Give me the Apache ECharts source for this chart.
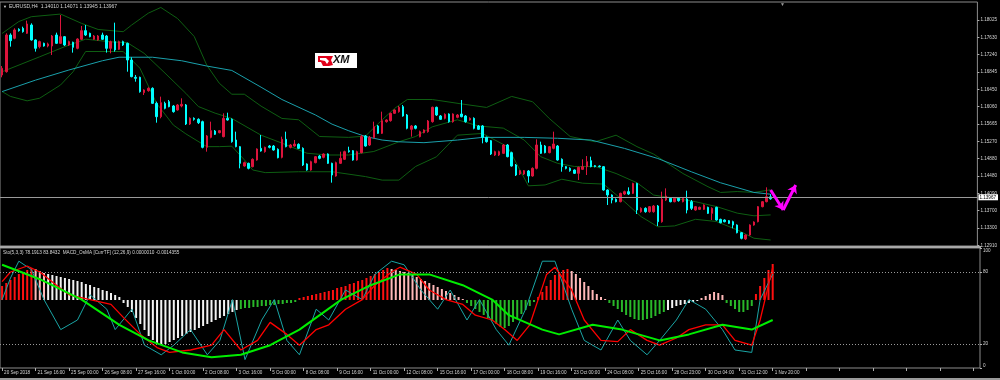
<!DOCTYPE html>
<html><head><meta charset="utf-8">
<script src="https://cdn.jsdelivr.net/npm/echarts@6/dist/echarts.min.js"></script>
<style>html,body{margin:0;padding:0;background:#000;}#c{width:1000px;height:380px;}</style>
</head><body><div id="c"></div>
<script>
// ---- tick labels ----
const timeLabels = ["20 Sep 2018","21 Sep 16:00","25 Sep 00:00","26 Sep 08:00","27 Sep 16:00","1 Oct 00:00","2 Oct 08:00","3 Oct 16:00","5 Oct 00:00","8 Oct 08:00","9 Oct 16:00","11 Oct 00:00","12 Oct 08:00","15 Oct 16:00","17 Oct 00:00","18 Oct 08:00","19 Oct 16:00","23 Oct 00:00","24 Oct 08:00","25 Oct 16:00","28 Oct 23:00","30 Oct 04:00","31 Oct 12:00","1 Nov 20:00"];
const priceTicks = [1.18025,1.17630,1.17240,1.16845,1.16450,1.16060,1.15665,1.15270,1.14880,1.14480,1.14090,1.13700,1.13300,1.12910];
const stochTicks = [0,20,80,100];
const lastPrice = 1.13967;

// ---- candles [open, close, low, high] ----
const candles = [
[1.16777,1.16928,1.16724,1.16980],[1.16852,1.17685,1.16830,1.17723],[1.17685,1.17556,1.17420,1.17723],[1.17610,1.17799,1.17587,1.17837],
[1.17814,1.17784,1.17761,1.17837],[1.17837,1.17761,1.17738,1.17874],[1.17723,1.17935,1.17708,1.18011],[1.17912,1.17572,1.17556,1.17950],
[1.17572,1.17382,1.17307,1.17587],[1.17420,1.17534,1.17382,1.17556],[1.17496,1.17435,1.17420,1.17511],[1.17435,1.17481,1.17405,1.17511],
[1.17435,1.17662,1.17231,1.17685],[1.17685,1.17496,1.17481,1.17738],[1.17496,1.17647,1.17481,1.18139],[1.17647,1.17458,1.17435,1.17662],
[1.17458,1.17534,1.17435,1.17556],[1.17519,1.17405,1.17284,1.17534],[1.17382,1.17594,1.17360,1.17610],[1.17587,1.17784,1.17572,1.17890],
[1.17784,1.17685,1.17662,1.17912],[1.17723,1.17647,1.17632,1.17738],[1.17587,1.17662,1.17572,1.17685],[1.17572,1.17662,1.17556,1.17685],
[1.17685,1.17587,1.17572,1.17738],[1.17662,1.17382,1.17284,1.17685],[1.17382,1.17534,1.17269,1.17556],[1.17534,1.17345,1.17307,1.17965],
[1.17360,1.17534,1.17345,1.17556],[1.17534,1.17458,1.17435,1.17556],[1.17496,1.17117,1.16852,1.17511],[1.17117,1.16739,1.16724,1.17178],
[1.16724,1.16701,1.16625,1.16777],[1.16724,1.16398,1.16376,1.16739],[1.16376,1.16436,1.16323,1.16451],[1.16421,1.16474,1.16398,1.16497],
[1.16474,1.16133,1.16118,1.16497],[1.16133,1.15830,1.15694,1.16171],[1.15830,1.16148,1.15793,1.16285],[1.16133,1.16020,1.15997,1.16171],
[1.16171,1.16058,1.16043,1.16209],[1.16073,1.15944,1.15921,1.16096],[1.15982,1.16096,1.15967,1.16118],[1.16073,1.16111,1.16043,1.16247],
[1.16096,1.15664,1.15641,1.16118],[1.15664,1.15793,1.15641,1.15815],[1.15793,1.15770,1.15740,1.15815],[1.15770,1.15694,1.15664,1.15793],
[1.15717,1.15134,1.15111,1.15740],[1.15134,1.15392,1.15036,1.15414],[1.15361,1.15513,1.15339,1.15717],[1.15505,1.15429,1.15414,1.15528],
[1.15467,1.15513,1.15452,1.15528],[1.15377,1.15793,1.15361,1.15906],[1.15793,1.15755,1.15740,1.15921],[1.15770,1.15263,1.15240,1.15793],
[1.15301,1.15149,1.15134,1.15490],[1.15149,1.14771,1.14657,1.15164],[1.14710,1.14786,1.14695,1.14809],[1.14771,1.14657,1.14634,1.14786],
[1.14695,1.14862,1.14680,1.14884],[1.14846,1.15096,1.14831,1.15111],[1.15111,1.15051,1.15036,1.15414],[1.15036,1.15134,1.15013,1.15149],
[1.15164,1.15134,1.15111,1.15187],[1.15164,1.15073,1.15058,1.15187],[1.15089,1.14899,1.14884,1.15111],[1.14907,1.15316,1.14884,1.15377],
[1.15316,1.15149,1.15134,1.15490],[1.15134,1.15187,1.15111,1.15210],[1.15164,1.15210,1.15149,1.15301],[1.15202,1.15111,1.15096,1.15225],
[1.15111,1.14733,1.14710,1.15134],[1.14756,1.14619,1.14604,1.14771],[1.14619,1.14809,1.14604,1.14831],[1.14786,1.14922,1.14771,1.14937],
[1.14937,1.14884,1.14862,1.14960],[1.14907,1.14983,1.14884,1.14998],[1.14983,1.14771,1.14756,1.14998],[1.14771,1.14506,1.14332,1.14786],
[1.14483,1.14786,1.14468,1.14809],[1.14771,1.14884,1.14756,1.15036],[1.14862,1.15036,1.14846,1.15058],[1.15058,1.15036,1.15013,1.15149],
[1.15058,1.14846,1.14831,1.15073],[1.14846,1.15036,1.14831,1.15058],[1.15013,1.15377,1.14998,1.15414],[1.15392,1.15164,1.15149,1.15414],
[1.15187,1.15361,1.15164,1.15392],[1.15354,1.15603,1.15339,1.15717],[1.15619,1.15452,1.15437,1.15641],[1.15452,1.15740,1.15437,1.15944],
[1.15717,1.15755,1.15694,1.15770],[1.15740,1.15906,1.15717,1.15921],[1.15906,1.15982,1.15891,1.15997],[1.15944,1.16043,1.15921,1.16073],
[1.16058,1.15846,1.15830,1.16096],[1.15868,1.15566,1.15543,1.15891],[1.15543,1.15619,1.15377,1.15641],[1.15619,1.15566,1.15543,1.15641],
[1.15377,1.15490,1.15361,1.15513],[1.15467,1.15528,1.15452,1.15543],[1.15490,1.15732,1.15467,1.15755],[1.15717,1.16043,1.15694,1.16058],
[1.16043,1.15868,1.15846,1.16058],[1.15846,1.15770,1.15755,1.15868],[1.15793,1.15883,1.15770,1.15906],[1.15891,1.15717,1.15694,1.15906],
[1.15717,1.15891,1.15694,1.15906],[1.15815,1.15868,1.15793,1.15891],[1.15891,1.15830,1.15815,1.16209],[1.15846,1.15717,1.15694,1.15868],
[1.15755,1.15793,1.15740,1.15815],[1.15793,1.15566,1.15543,1.15815],[1.15619,1.15543,1.15528,1.15641],[1.15619,1.15361,1.15225,1.15641],
[1.15361,1.15263,1.15240,1.15377],[1.15285,1.14983,1.14960,1.15301],[1.14960,1.15036,1.14937,1.15058],[1.14960,1.15036,1.14937,1.15058],
[1.14998,1.15187,1.14983,1.15210],[1.15187,1.14922,1.14907,1.15210],[1.15013,1.14710,1.14695,1.15036],[1.14733,1.14506,1.14483,1.14756],
[1.14529,1.14604,1.14506,1.14619],[1.14529,1.14604,1.14506,1.14619],[1.14597,1.14483,1.14332,1.14619],[1.14483,1.14657,1.14468,1.14680],
[1.14657,1.15187,1.14634,1.15316],[1.15187,1.14998,1.14983,1.15263],[1.15164,1.15013,1.14998,1.15187],[1.15013,1.15149,1.14998,1.15164],
[1.15111,1.15210,1.15089,1.15490],[1.15164,1.14846,1.14831,1.15187],[1.14862,1.14695,1.14581,1.14884],[1.14695,1.14657,1.14634,1.14710],
[1.14657,1.14604,1.14581,1.14680],[1.14619,1.14544,1.14529,1.14634],[1.14544,1.14680,1.14392,1.14695],[1.14634,1.14695,1.14619,1.14862],
[1.14695,1.14809,1.14506,1.14937],[1.14831,1.14695,1.14680,1.14922],[1.14718,1.14695,1.14680,1.14733],[1.14710,1.14695,1.14680,1.14725],
[1.14695,1.14165,1.14150,1.14710],[1.14165,1.14052,1.13825,1.14180],[1.14052,1.13938,1.13862,1.14067],[1.13953,1.13900,1.13885,1.13976],
[1.13900,1.14089,1.13885,1.14105],[1.14074,1.14128,1.14052,1.14150],[1.14128,1.14074,1.14052,1.14226],[1.14089,1.14315,1.14074,1.14330],
[1.14315,1.13711,1.13620,1.14330],[1.13673,1.13749,1.13650,1.13772],[1.13749,1.13673,1.13650,1.13772],[1.13673,1.13787,1.13650,1.13802],
[1.13673,1.13802,1.13650,1.13825],[1.13802,1.13446,1.13348,1.13825],[1.13446,1.13953,1.13423,1.14128],[1.13938,1.14029,1.13915,1.14203],
[1.13976,1.13900,1.13885,1.13998],[1.13900,1.13976,1.13885,1.13998],[1.13976,1.13923,1.13900,1.13998],[1.13900,1.13976,1.13885,1.13998],
[1.13961,1.13711,1.13635,1.14150],[1.13900,1.13749,1.13711,1.13938],[1.13711,1.13787,1.13696,1.13802],[1.13726,1.13772,1.13711,1.13787],
[1.13726,1.13825,1.13711,1.13840],[1.13772,1.13635,1.13620,1.13787],[1.13635,1.13749,1.13484,1.13772],[1.13772,1.13484,1.13469,1.13787],
[1.13499,1.13423,1.13408,1.13514],[1.13484,1.13446,1.13431,1.13499],[1.13469,1.13408,1.13393,1.13484],[1.13446,1.13370,1.13295,1.13469],
[1.13370,1.13196,1.13181,1.13385],[1.13196,1.13068,1.13045,1.13211],[1.13053,1.13143,1.13030,1.13158],[1.13143,1.13370,1.13128,1.13385],
[1.13370,1.13438,1.13355,1.13453],[1.13446,1.13787,1.13431,1.13802],[1.13787,1.13900,1.13772,1.13915],[1.13900,1.14013,1.13885,1.14226],
[1.14010,1.13967,1.13945,1.14071]
];

// ---- main-panel lines, [bar index, price] ----
const maLine = [[0,1.1640],[8,1.1666],[16,1.1689],[24,1.1710],[28,1.1718],[36,1.1718],[43,1.1710],[49,1.1698],[55,1.1688],[62,1.1650],[67,1.1622],[75,1.1587],[79,1.1566],[83,1.1551],[87,1.1538],[91,1.1530],[95,1.1526],[101,1.1524],[109,1.1530],[115,1.1536],[125,1.1536],[133,1.1534],[141,1.1530],[149,1.1511],[157,1.1488],[165,1.1458],[172,1.1433],[180,1.1411],[184,1.1407]];
const bbUpper = [[0,1.1772],[4,1.1799],[7,1.1810],[14,1.1816],[19,1.1795],[23,1.1781],[29,1.1776],[31,1.1791],[35,1.1818],[38,1.1831],[42,1.1806],[46,1.1765],[49,1.1700],[52,1.1659],[55,1.1634],[58,1.1634],[62,1.1607],[67,1.1579],[71,1.1576],[76,1.1538],[83,1.1536],[87,1.1539],[91,1.1576],[94,1.1602],[97,1.1622],[103,1.1622],[110,1.1612],[116,1.1604],[122,1.1629],[127,1.1617],[131,1.1579],[136,1.1538],[142,1.1526],[147,1.1541],[152,1.1515],[156,1.1498],[160,1.1473],[163,1.1454],[169,1.1424],[172,1.1411],[176,1.1413],[180,1.1411],[184,1.1417]];
const bbMiddle = [[0,1.1685],[9,1.1719],[15,1.1742],[20,1.1759],[26,1.1753],[30,1.1751],[34,1.1727],[39,1.1682],[44,1.1636],[47,1.1606],[51,1.1591],[55,1.1579],[62,1.1541],[67,1.1523],[73,1.1500],[78,1.1496],[83,1.1496],[89,1.1504],[95,1.1526],[99,1.1538],[103,1.1560],[109,1.1576],[114,1.1562],[120,1.1557],[125,1.1530],[129,1.1492],[133,1.1477],[137,1.1470],[142,1.1470],[147,1.1454],[152,1.1433],[156,1.1405],[161,1.1398],[166,1.1390],[171,1.1379],[176,1.1364],[180,1.1358],[184,1.1360]];
const bbLower = [[0,1.1640],[2,1.1629],[6,1.1619],[9,1.1625],[14,1.1655],[17,1.1685],[20,1.1731],[25,1.1731],[29,1.1731],[33,1.1693],[37,1.1613],[41,1.1564],[44,1.1544],[49,1.1515],[52,1.1515],[55,1.1516],[58,1.1485],[60,1.1462],[63,1.1456],[71,1.1458],[79,1.1458],[87,1.1447],[91,1.1439],[95,1.1439],[99,1.1470],[104,1.1492],[109,1.1541],[115,1.1545],[121,1.1515],[126,1.1426],[130,1.1428],[134,1.1441],[139,1.1432],[144,1.1430],[149,1.1390],[153,1.1356],[157,1.1333],[161,1.1335],[166,1.1350],[171,1.1345],[176,1.1326],[180,1.1307],[184,1.1303]];
const arrowPath = [[184,1.14166],[187,1.13711],[190,1.14279]];

// ---- indicator panel ----
const stochMain = [[0,57],[2,75],[4,89],[7,82],[10,57],[14,32],[18,40],[21,61],[25,49],[27,32],[31,49],[34,19],[38,11],[41,19],[45,32],[49,11],[52,23],[55,57],[58,7],[62,40],[65,57],[68,23],[71,11],[75,49],[78,40],[82,65],[86,57],[89,78],[93,89],[96,86],[100,65],[104,49],[107,65],[111,40],[114,57],[118,32],[121,19],[125,49],[129,89],[132,89],[136,49],[139,23],[143,15],[147,40],[150,23],[154,11],[157,23],[161,40],[164,57],[168,49],[172,32],[175,15],[179,13],[181,57],[184,78.19]];
const stochSignal = [[0,72],[2,80],[6,85],[9,80],[13,69],[16,61],[21,57],[26,53],[29,42],[33,28],[37,17],[40,13],[45,15],[50,19],[53,32],[57,15],[61,23],[64,38],[68,28],[71,19],[75,32],[78,36],[82,49],[86,57],[89,69],[93,80],[95,84],[99,78],[102,65],[106,57],[110,53],[113,44],[117,40],[120,32],[123,23],[126,36],[130,78],[132,84],[136,65],[139,40],[143,23],[147,22],[150,32],[154,23],[157,19],[161,25],[164,32],[168,36],[172,36],[175,23],[179,19],[181,40],[184,83.84]];
const macdLine = [[0,86],[9,74],[19,57],[28,36],[35,23],[43,13],[50,9],[57,11],[64,19],[71,32],[81,57],[88,69],[95,78],[102,78],[110,69],[117,57],[121,44],[129,32],[133,28],[141,36],[148,32],[157,23],[164,28],[172,36],[179,32],[184,40]];
const osma = [14,17,20,23,26,28,30,32,31,29,27,26,25,24,23,22,21,20,19,18,16,15,13,12,10,9,7,5,3,-3,-7,-12,-18,-24,-30,-36,-40,-43,-45,-44,-42,-40,-38,-36,-34,-32,-30,-28,-26,-24,-22,-20,-18,-16,-14,-12,-10,-9,-8,-8,-7,-7,-6,-6,-5,-5,-4,-4,-3,-3,-2,2,3,4,5,6,7,8,9,10,12,13,14,16,17,19,20,22,24,26,28,30,32,31,30,29,28,27,25,23,21,19,17,15,13,11,9,7,5,3,1,-3,-6,-9,-12,-15,-18,-21,-24,-27,-28,-26,-22,-18,-14,-10,-6,-2,3,8,14,20,25,28,30,31,29,26,22,18,14,10,6,3,1,-3,-6,-9,-12,-15,-17,-19,-20,-20,-19,-18,-16,-14,-12,-10,-8,-6,-5,-4,-3,-2,-1,2,4,6,8,7,5,-3,-6,-9,-12,-12,-10,-6,6,14,22,30,36];
const osmaColorRuns = [['r',8],['p',3],['w',46],['g',14],['r',22],['p',18],['g',17],['r',8],['p',9],['g',14],['w',8],['p',6],['g',7],['r',5]];

// ---- build ----
const N = 234;
const cats = []; for (let i = 0; i < N; i++) cats.push(String(i));
const osmaCodes = []; osmaColorRuns.forEach(([c, n]) => { for (let k = 0; k < n; k++) osmaCodes.push(c); });
const osmaPalette = { r: '#ff1010', p: '#ffb8b8', w: '#f2f2f2', g: '#29b829' };
const FONT = 'Liberation Sans';
const TXT = '#d6d6d6';

const chart = echarts.init(document.getElementById('c'), null, { renderer: 'canvas' });
const lineS = (data, color, width, xi, yi, z) => ({
  type: 'line', data, xAxisIndex: xi, yAxisIndex: yi, symbol: 'none', silent: true, z: z || 3,
  lineStyle: { color, width }, connectNulls: true
});
chart.setOption({
  backgroundColor: '#000',
  animation: false,
  grid: [
    { left: 0, top: 2, width: 980, height: 244, show: true, borderColor: '#8c8c8c', borderWidth: 1, backgroundColor: 'transparent' },
    { left: 0, top: 248, width: 980, height: 120, show: true, borderColor: '#8c8c8c', borderWidth: 1, backgroundColor: 'transparent' }
  ],
  xAxis: [
    { type: 'category', data: cats, gridIndex: 0, boundaryGap: true, axisLine: { show: false }, axisTick: { show: false }, axisLabel: { show: false }, splitLine: { show: false } },
    { type: 'category', data: cats, gridIndex: 1, boundaryGap: true, axisLine: { show: false },
      axisTick: { show: true, interval: 7, alignWithLabel: true, length: 3, lineStyle: { color: '#b0b0b0', width: 1 } },
      axisLabel: { interval: 7, align: 'left', margin: 2, color: TXT, fontSize: 4.6, fontFamily: FONT, padding: [0, 0, 0, 2],
        formatter: (v, i) => (i % 8 === 0 && timeLabels[i / 8]) ? timeLabels[i / 8] : '' },
      splitLine: { show: false } }
  ],
  yAxis: [
    { type: 'value', gridIndex: 0, position: 'right', min: 1.12894, max: 1.18434, scale: true,
      axisLine: { show: false }, splitLine: { show: false },
      axisTick: { show: true, customValues: priceTicks, length: 2, lineStyle: { color: '#b0b0b0' } },
      axisLabel: { customValues: priceTicks, formatter: v => v.toFixed(5), color: TXT, fontSize: 4.6, fontFamily: FONT, margin: 3 } },
    { type: 'value', gridIndex: 1, position: 'right', min: 0, max: 100,
      axisLine: { show: false }, splitLine: { show: false },
      axisTick: { show: true, customValues: stochTicks, length: 2, lineStyle: { color: '#b0b0b0' } },
      axisLabel: { customValues: stochTicks, color: TXT, fontSize: 4.6, fontFamily: FONT, margin: 3,
        verticalAlignMinLabel: 'bottom', verticalAlignMaxLabel: 'top' } },
    { type: 'value', gridIndex: 1, min: -68, max: 52, show: false }
  ],
  series: [
    lineS(bbUpper, '#0e5e12', 1, 0, 0, 2),
    lineS(bbMiddle, '#0e5e12', 1, 0, 0, 2),
    lineS(bbLower, '#0e5e12', 1, 0, 0, 2),
    lineS(maLine, '#1aa0ab', 1, 0, 0, 2),
    { type: 'candlestick', data: candles, xAxisIndex: 0, yAxisIndex: 0, barWidth: 2, silent: true, z: 4,
      itemStyle: { color: '#dc143c', color0: '#00ffff', borderColor: '#dc143c', borderColor0: '#00ffff', borderWidth: 1 },
      markLine: { silent: true, symbol: 'none', animation: false,
        lineStyle: { color: '#9a9a9a', width: 1, type: 'solid' },
        label: { show: true, position: 'end', distance: 1, formatter: lastPrice.toFixed(5), backgroundColor: '#ffffff', color: '#000', fontSize: 4.6, fontFamily: FONT, padding: [1, 2, 0, 1] },
        data: [{ yAxis: lastPrice }] } },
    { type: 'lines', coordinateSystem: 'cartesian2d', xAxisIndex: 0, yAxisIndex: 0, silent: true, z: 6,
      symbol: ['none', 'arrow'], symbolSize: 8,
      lineStyle: { color: '#ff00ff', width: 3, opacity: 1, curveness: 0 },
      data: [{ coords: [arrowPath[0], arrowPath[1]] }, { coords: [arrowPath[1], arrowPath[2]] }] },
    { type: 'bar', data: osma.map((v, i) => ({ value: v, itemStyle: { color: osmaPalette[osmaCodes[i]] } })),
      xAxisIndex: 1, yAxisIndex: 2, barWidth: 2, silent: true, z: 2 },
    lineS(stochMain, '#1aa5a5', 1, 1, 1, 3),
    Object.assign(lineS(stochSignal, '#ff0000', 1.3, 1, 1, 4), {
      markLine: { silent: true, symbol: 'none', animation: false, label: { show: false },
        lineStyle: { color: '#9a9a9a', width: 1, type: [1, 2] },
        data: [{ yAxis: 20 }, { yAxis: 80 }] } }),
    lineS(macdLine, '#00ee00', 2, 1, 1, 5)
  ],
  graphic: [
    { type: 'rect', shape: { x: 0, y: 246, width: 981, height: 2 }, style: { fill: '#a8a8a8' }, silent: true },
    { type: 'rect', shape: { x: 0, y: 378, width: 1000, height: 2 }, style: { fill: '#9a9a9a' }, silent: true },
    { type: 'text', x: 3, y: 4.5, style: { text: '\u25BC', fill: TXT, font: '4px "' + FONT + '"' }, silent: true },
    { type: 'text', x: 9, y: 4.5, style: { text: 'EURUSD,H4  1.14010 1.14071 1.13945 1.13967', fill: TXT, font: '5px "' + FONT + '"' }, silent: true },
    { type: 'text', x: 780, y: 2, style: { text: '\u25BC', fill: '#9a9a9a', font: '5px "' + FONT + '"' }, silent: true },
    { type: 'text', x: 3, y: 250, style: { text: 'Sto(5,3,3) 78.1913 83.8432  MACD_OsMA [CurrTF] (12,26,9) 0.0000010 -0.0014355', fill: TXT, font: '4.7px "' + FONT + '"' }, silent: true },
    { type: 'rect', shape: { x: 315, y: 53, width: 42, height: 15 }, style: { fill: '#ffffff' }, silent: true },
    { type: 'polygon', shape: { points: [[318,56],[333,56],[331,60],[333,65],[329,66],[323,66],[321,62],[318,62]] }, style: { fill: '#e1001a' }, silent: true },
    { type: 'polygon', shape: { points: [[320,58],[326,58],[329,61],[327,64],[325,61],[320,60]] }, style: { fill: '#ffffff' }, silent: true },
    { type: 'text', x: 333, y: 54, style: { text: 'XM', fill: '#111', font: 'italic bold 11px "' + FONT + '"' }, silent: true }
  ]
});
</script></body></html>
